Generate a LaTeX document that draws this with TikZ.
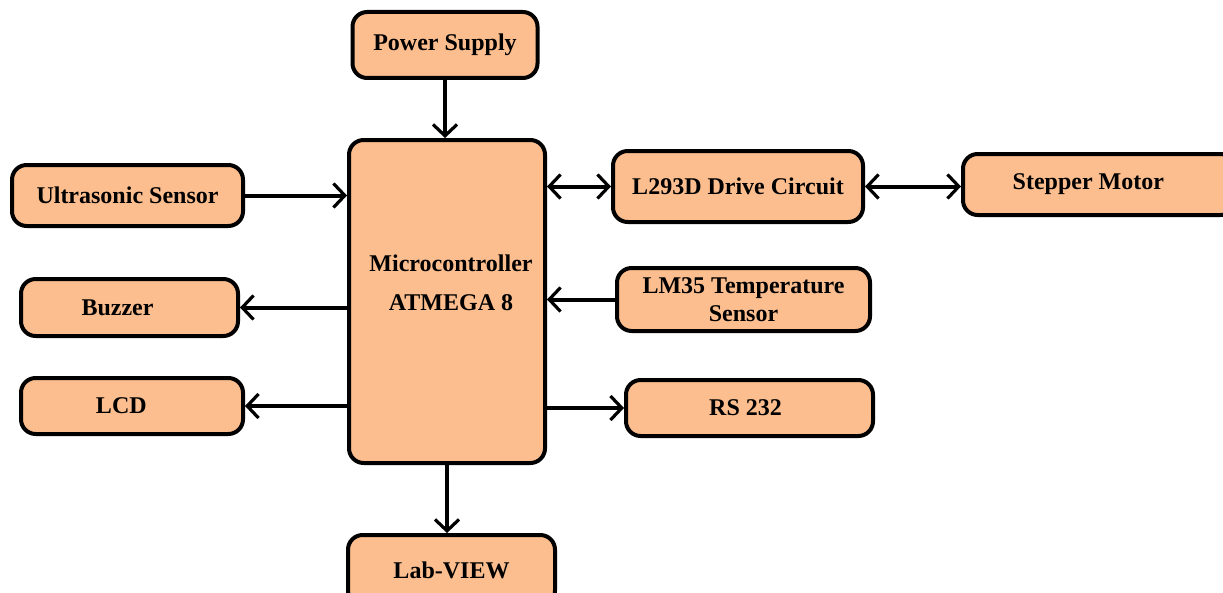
\documentclass[tikz,border=0pt]{standalone}
\usepackage{fontspec}
\setmainfont{Liberation Serif}
\usetikzlibrary{arrows.meta}
\definecolor{blockfill}{RGB}{252,190,143}

\begin{document}
\begin{tikzpicture}[x=0.75pt,y=-0.75pt,
  block/.style={draw=black, line width=3pt, fill=blockfill, rounded corners=11pt,
    font=\fontsize{18}{21}\selectfont\bfseries, align=center, inner sep=2pt},
  link/.style={line width=3pt, -{Straight Barb[length=8.5pt,width=18pt,line width=2.4pt]}},
  twoway/.style={line width=3pt, {Straight Barb[length=8.5pt,width=18pt,line width=2.4pt]}-{Straight Barb[length=8.5pt,width=18pt,line width=2.4pt]}}]
\useasboundingbox (0,0) rectangle (1223,592);
\node[block, minimum width=138.75pt, minimum height=49.5pt] (power) at (445,45) {Power Supply};
\node[block, minimum width=147pt, minimum height=242.25pt] (micro) at (447,301.5) {};
\node[font=\fontsize{18}{29}\selectfont\bfseries, align=center] (microtext) at (451,283) {Microcontroller\\ATMEGA 8};
\node[block, minimum width=173.25pt, minimum height=45.75pt] (ultra) at (127.5,195.5) {Ultrasonic Sensor};
\node[block, minimum width=162.75pt, minimum height=42.75pt] (buzzer) at (129.5,307.5) {Buzzer\hspace*{18pt}};
\node[block, minimum width=166.5pt, minimum height=42pt] (lcd) at (132,406) {LCD\hspace*{16pt}};
\node[block, minimum width=187.5pt, minimum height=53.25pt] (driver) at (738,186.5) {L293D Drive Circuit};
\node[block, minimum width=204pt, minimum height=45.75pt] (stepper) at (1099,184.5) {Stepper Motor\hspace*{16pt}};
\node[block, minimum width=189.75pt, minimum height=47.25pt] (lm35) at (743.5,299.5) {LM35 Temperature\\Sensor};
\node[block, minimum width=185.25pt, minimum height=42pt] (rs232) at (749.5,408) {RS 232\hspace*{6pt}};
\node[block, minimum width=155.25pt, minimum height=52.5pt] (labview) at (451.5,570) {Lab-VIEW};
% connectors
\draw[link] (power) -- (power |- micro.north);
\draw[link] (ultra) -- (ultra -| micro.west);
\draw[link] (buzzer -| micro.west) -- (buzzer);
\draw[link] (lcd -| micro.west) -- (lcd);
\draw[twoway] (driver -| micro.east) -- (driver);
\draw[twoway] (driver.east) -- (driver.east -| stepper.west);
\draw[link] (lm35) -- (lm35 -| micro.east);
\draw[link] (rs232 -| micro.east) -- (rs232);
\draw[link] (micro) -- (micro |- labview.north);
\end{tikzpicture}
\end{document}
